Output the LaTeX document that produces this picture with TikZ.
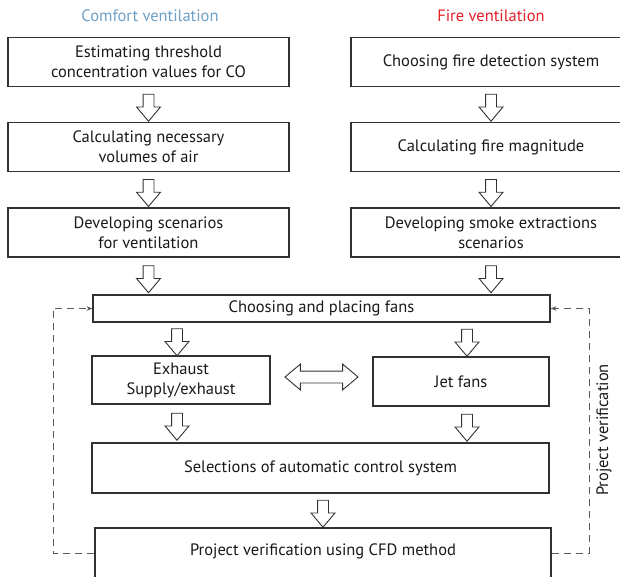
\documentclass[tikz,border=0pt]{standalone}
\usepackage{fontspec}
\setmainfont{PT Sans}
\usetikzlibrary{shapes.arrows,arrows.meta,calc}
\definecolor{cblue}{RGB}{110,160,198}
\definecolor{fred}{RGB}{228,32,40}
\definecolor{edge}{RGB}{50,50,50}
\definecolor{dash}{RGB}{90,90,90}
\begin{document}
\begin{tikzpicture}[x=1pt,y=-1pt,
  box/.style={draw=edge,line width=1.1pt,rectangle,inner sep=0pt,align=center,
    font=\fontsize{16.5}{20}\selectfont,text=black!90},
  lbox/.style={box,minimum width=281pt,minimum height=49pt},
  rbox/.style={box,minimum width=280pt,minimum height=49pt},
  harrow/.style={draw=edge,line width=0.9pt,fill=white,single arrow,
    minimum height=27pt,minimum width=23pt,inner sep=5pt,
    single arrow head extend=6.5pt,single arrow tip angle=80,
    shape border rotate=270},
  darrow/.style={draw=edge,line width=0.9pt,fill=white,double arrow,
    minimum height=73pt,minimum width=25pt,inner sep=5.5pt,
    double arrow head extend=7pt,double arrow tip angle=80},
  loop/.style={draw=dash,line width=0.9pt,dash pattern=on 7pt off 5pt},
  title/.style={font=\fontsize{16.5}{20}\selectfont}
]
\path[use as bounding box] (0,0) rectangle (620,577);

\node[title,text=cblue] (tc) at (150,16) {Comfort ventilation};
\node[title,text=fred] (tf) at (491,16) {Fire ventilation};

\node[lbox] (l1) at (148.5,62) {Estimating threshold\\concentration values for CO};
\node[lbox] (l2) at (148.5,147) {Calculating necessary\\volumes of air};
\node[lbox] (l3) at (148.5,232.5) {Developing scenarios\\for ventilation};

\node[rbox] (r1) at (491,62) {Choosing fire detection system};
\node[rbox] (r2) at (491,147) {Calculating fire magnitude};
\node[rbox] (r3) at (491,232.5) {Developing smoke extractions\\scenarios};

\node[box,minimum width=457pt,minimum height=27pt] (fans) at (321.5,308.5) {Choosing and placing fans};

\node[box,minimum width=178pt,minimum height=48pt] (exh) at (181,380) {Exhaust\\Supply/exhaust};
\node[box,minimum width=176pt,minimum height=49pt] (jet) at (461,381.5) {Jet fans};

\node[box,minimum width=457pt,minimum height=50pt] (sel) at (320.5,468) {Selections of automatic control system};

\node[box,minimum width=456pt,inner sep=0pt,text height=27pt,text depth=35pt,anchor=base] (cfd) at (323,555) {Project verification using CFD method};

% hollow arrows
\path (l1.south) -- (l2.north) node[midway,harrow]{};
\path (l2.south) -- (l3.north) node[midway,harrow]{};
\path (r1.south) -- (r2.north) node[midway,harrow]{};
\path (r2.south) -- (r3.north) node[midway,harrow]{};
\path (l3.south) -- (l3.south |- fans.north) node[midway,harrow]{};
\path (r3.south) -- (r3.south |- fans.north) node[midway,harrow]{};

\coordinate (xa) at (177,0);
\coordinate (xb) at (467,0);
\path (fans.south -| xa) -- (exh.north -| xa) node[midway,harrow]{};
\path (fans.south -| xb) -- (jet.north -| xb) node[midway,harrow]{};
\path (exh.south -| xa) -- (sel.north -| xa) node[midway,harrow]{};
\path (jet.south -| xb) -- (sel.north -| xb) node[midway,harrow]{};
\path (sel.south -| cfd.north) -- (cfd.north) node[midway,harrow]{};

\path (exh.east) ++(0,-3) coordinate (de1);
\path (jet.west) ++(0,-4.5) coordinate (de2);
\path (de1) -- (de2) node[midway,darrow]{};

% dashed verification loop
\coordinate (ly) at (0,553);
\coordinate (lx) at (53,0);
\coordinate (rx) at (589,0);
\draw[loop,-{Stealth[length=6pt,width=4.5pt]}] (cfd.west |- ly) -| (lx |- fans.west) -- (fans.west);
\draw[loop,-{Stealth[length=6pt,width=4.5pt]}] (cfd.east |- ly) -| (rx |- fans.east) -- (fans.east);

\node[title,rotate=90,text=black!90] (pv) at (604,430) {Project verification};
\end{tikzpicture}
\end{document}
